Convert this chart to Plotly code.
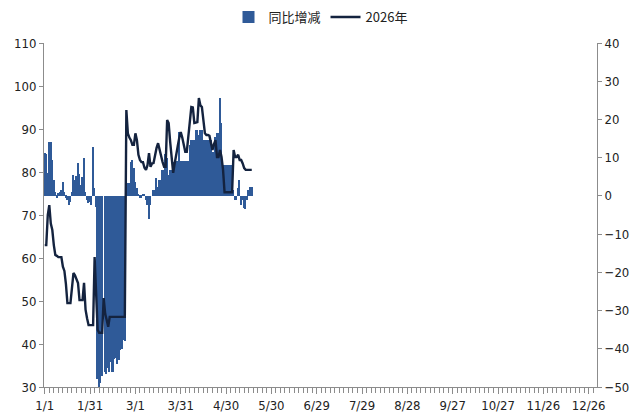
import plotly.graph_objects as go

# Daily series starting 1/1 (day index 0)
yoy_change = [
    11.2, 11.0, 6.0, 14.1, 14.0, 9.4, 4.2, 1.0, -0.5, 0.8,
    1.0, 1.5, 3.7, 1.0, -0.5, -1.0, -2.4, -1.5, 1.0, 5.5,
    4.2, 5.2, 8.6, 5.8, 2.9, 4.9, 10.0, 1.0, -1.0, -1.8,
    -1.5, -2.4, 12.8, 2.0, -3.0, -48.0, -50.0, -49.0, -47.0, None,
    -46.0, -46.6, -45.0, -46.0, -43.5, -46.0, -42.7, -42.5, -44.0, -43.0,
    -40.3, -40.0, -37.6, -38.0, 2.4, 3.4, 3.4, 8.9, 9.4, 7.3,
    3.7, 2.0, 0.3, -0.5, -0.5, 0.3, 0.3, -1.0, -2.4, -6.0,
    -2.4, 0.0, 1.6, 1.6, 4.7, 2.4, 4.2, 4.2, 6.8, 6.8,
    11.0, 10.0, 5.5, 6.8, 6.8, 6.8, 8.9, 8.9, 9.2, 16.7,
    9.0, 9.2, 9.2, 9.2, 9.2, 9.2, 13.3, 14.7, 14.7, 14.7,
    17.3, 17.3, 15.9, 17.3, 17.3, 14.7, 14.7, 14.7, 14.7, 14.7,
    14.7, 11.5, 11.5, 15.4, 16.5, 16.5, 25.6, 19.0, 8.1, 8.1,
    8.1, 8.1, 8.1, 8.1, 8.1, 1.6, -1.0, -1.0, 2.0, 4.2,
    -2.4, -1.0, -3.2, -3.5, -1.0, 1.6, 2.4, 2.4,
]

value_2026 = [
    63.0, 63.0, 70.0, 72.3, 68.0, 66.5, 63.0, 60.7, 60.5, 60.2,
    60.2, 60.2, 58.0, 57.0, 54.0, 49.5, 49.5, 49.5, 53.0, 56.5,
    56.0, 55.0, 54.2, 50.2, 50.2, 50.2, 54.2, 48.0, 46.0, 44.4,
    44.4, 44.4, 44.4, 60.2, 53.0, 43.3, 42.6, 42.6, 42.6, 50.7,
    47.0, 45.6, 44.0, 46.3, 46.3, 46.3, 46.3, 46.3, 46.3, 46.3,
    46.3, 46.3, 46.3, 46.3, 94.4, 89.0, 88.0, 87.4, 86.3, 86.3,
    89.0, 87.4, 84.0, 82.8, 82.3, 82.3, 81.0, 80.5, 81.6, 84.4,
    81.2, 82.0, 82.1, 84.0, 85.6, 86.7, 85.0, 83.5, 82.3, 81.2,
    81.2, 92.1, 91.4, 87.0, 83.5, 79.8, 82.0, 84.4, 86.0, 87.9,
    89.3, 88.0, 86.0, 84.7, 84.7, 88.0, 91.4, 95.1, 95.0, 91.4,
    91.5, 91.6, 97.2, 95.5, 95.1, 92.6, 89.0, 88.6, 88.6, 88.4,
    87.0, 85.1, 86.5, 87.4, 83.5, 83.5, 85.1, 83.5, 80.5, 75.3,
    75.3, 75.3, 75.3, 75.3, 75.3, 85.1, 83.5, 83.5, 84.0, 82.8,
    82.8, 82.0, 80.9, 80.5, 80.5, 80.5, 80.5, 80.5,
]

tick_days = [0, 30, 60, 90, 120, 150, 180, 210, 240, 270, 300, 330, 360]
tick_labels = ["1/1", "1/31", "3/1", "3/31", "4/30", "5/30", "6/29",
               "7/29", "8/28", "9/27", "10/27", "11/26", "12/26"]

days_bar = list(range(len(yoy_change)))
days_line = list(range(len(value_2026)))

BAR_COLOR = "#2F5A98"
LINE_COLOR = "#14233F"
AXIS_COLOR = "#8C8C8C"
TICK_FONT = dict(family="DejaVu Sans Condensed, Liberation Sans Narrow, Liberation Sans",
                 size=13, color="#222222")

fig = go.Figure()
fig.add_trace(go.Bar(
    x=days_bar, y=yoy_change, name="同比增减", yaxis="y",
    marker=dict(color=BAR_COLOR, line=dict(width=0)), width=1.0,
))
fig.add_trace(go.Scatter(
    x=days_line, y=value_2026, name="2026年", yaxis="y2", mode="lines",
    line=dict(color=LINE_COLOR, width=2.4),
))

fig.update_layout(
    width=637, height=418,
    margin=dict(l=44, r=40, t=43, b=31, autoexpand=False),
    paper_bgcolor="white", plot_bgcolor="white",
    bargap=0, showlegend=True,
    legend=dict(orientation="h", x=0.5, xanchor="center", y=0.995, yanchor="top",
                yref="container", font=dict(family="Noto Sans CJK SC", size=13, color="#222222"),
                itemwidth=30, tracegroupgap=0),
    xaxis=dict(range=[-0.5, 365.5], tickmode="array", tickvals=tick_days, ticktext=tick_labels,
               showgrid=False, zeroline=False, showline=True, linecolor=AXIS_COLOR, linewidth=1,
               ticks="outside", ticklen=6, tickcolor=AXIS_COLOR, tickfont=TICK_FONT,
               minor=dict(dtick=3, ticks="outside", ticklen=5, tickcolor=AXIS_COLOR, showgrid=False)),
    yaxis=dict(side="right", range=[-50, 40], dtick=10, showgrid=False, zeroline=False,
               showline=True, linecolor=AXIS_COLOR, linewidth=1, ticks="outside", ticklen=4,
               tickcolor=AXIS_COLOR, tickfont=TICK_FONT),
    yaxis2=dict(side="left", overlaying="y", range=[30, 110], dtick=10, showgrid=False,
                zeroline=False, showline=True, linecolor=AXIS_COLOR, linewidth=1, ticks="outside",
                ticklen=4, tickcolor=AXIS_COLOR, tickfont=TICK_FONT),
)

fig.write_html("out.html")
